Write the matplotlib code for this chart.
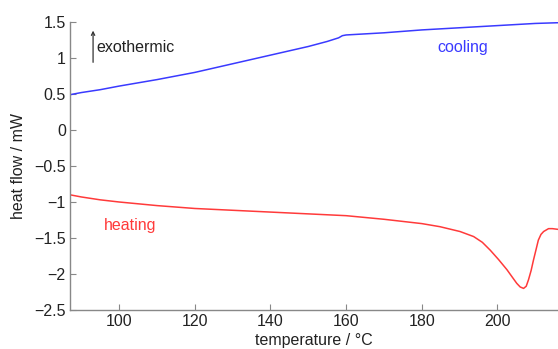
import matplotlib
matplotlib.use("Agg")
import matplotlib.pyplot as plt
import numpy as np

plt.rcParams['font.family'] = ['Liberation Sans', 'DejaVu Sans']

# cooling curve (blue)
cool_T = [87, 90, 95, 100, 105, 110, 115, 120, 125, 130, 135, 140, 145, 150, 155, 158, 159, 160, 165, 170, 175, 180, 185, 190, 195, 200, 205, 210, 216]
cool_Q = [0.49, 0.52, 0.56, 0.61, 0.655, 0.70, 0.75, 0.80, 0.86, 0.92, 0.98, 1.04, 1.10, 1.16, 1.23, 1.28, 1.31, 1.32, 1.335, 1.35, 1.37, 1.39, 1.405, 1.42, 1.435, 1.45, 1.465, 1.48, 1.49]

# heating curve (red)
heat_T = [87, 90, 95, 100, 110, 120, 130, 140, 150, 160, 170, 180, 184.8, 190.1, 193.7, 196, 198.1, 200.3, 202.5, 204, 205.1, 206, 206.9, 207.6, 208.2, 208.9, 209.5, 210.2, 210.8, 211.5, 212.2, 213.5, 214.5, 216]
heat_Q = [-0.90, -0.93, -0.97, -1.00, -1.05, -1.09, -1.115, -1.14, -1.165, -1.19, -1.24, -1.30, -1.343, -1.41, -1.48, -1.56, -1.67, -1.80, -1.94, -2.05, -2.13, -2.18, -2.20, -2.17, -2.08, -1.95, -1.81, -1.66, -1.53, -1.45, -1.41, -1.37, -1.37, -1.38]

xticks = [100, 120, 140, 160, 180, 200]
yticks = [1.5, 1, 0.5, 0, -0.5, -1, -1.5, -2, -2.5]
ytick_labels = ["1.5", "1", "0.5", "0", "\u22120.5", "\u22121", "\u22121.5", "\u22122", "\u22122.5"]

FS = 11.5

fig = plt.figure(figsize=(5.58, 3.49), dpi=100)
ax = fig.add_axes([70/558, 1-310/349, 1-70/558, (310-22)/349])

ax.plot(cool_T, cool_Q, color='#3a3aff', lw=1.1)
ax.plot(heat_T, heat_Q, color='#ff3a3a', lw=1.1)

ax.set_xlim(87, 216)
ax.set_ylim(-2.5, 1.5)
ax.set_xticks(xticks)
ax.set_xticklabels([str(t) for t in xticks])
ax.set_yticks(yticks)
ax.set_yticklabels(ytick_labels)

for s in ['top', 'right']:
    ax.spines[s].set_visible(False)
for s in ['left', 'bottom']:
    ax.spines[s].set_color('#888888')
    ax.spines[s].set_linewidth(1.0)
ax.tick_params(direction='in', length=4, color='#888888', labelsize=FS, labelcolor='#222222', pad=3)

ax.set_xlabel('temperature / \u00b0C', fontsize=FS, color='#222222', labelpad=3)
ax.set_ylabel('heat flow / mW', fontsize=FS, color='#222222', labelpad=6)

ax.text(190.8, 1.14, 'cooling', color='#3a3aff', fontsize=FS, ha='center', va='center')
ax.text(103, -1.33, 'heating', color='#ff3a3a', fontsize=FS, ha='center', va='center')
ax.text(94.0, 1.14, 'exothermic', color='#222222', fontsize=FS, ha='left', va='center')
ax.annotate('', xy=(93.1, 1.38), xytext=(93.1, 0.94),
            arrowprops=dict(arrowstyle='->', color='#333333', lw=0.9, shrinkA=0, shrinkB=0, mutation_scale=6))

fig.savefig('out.png', dpi=100)
